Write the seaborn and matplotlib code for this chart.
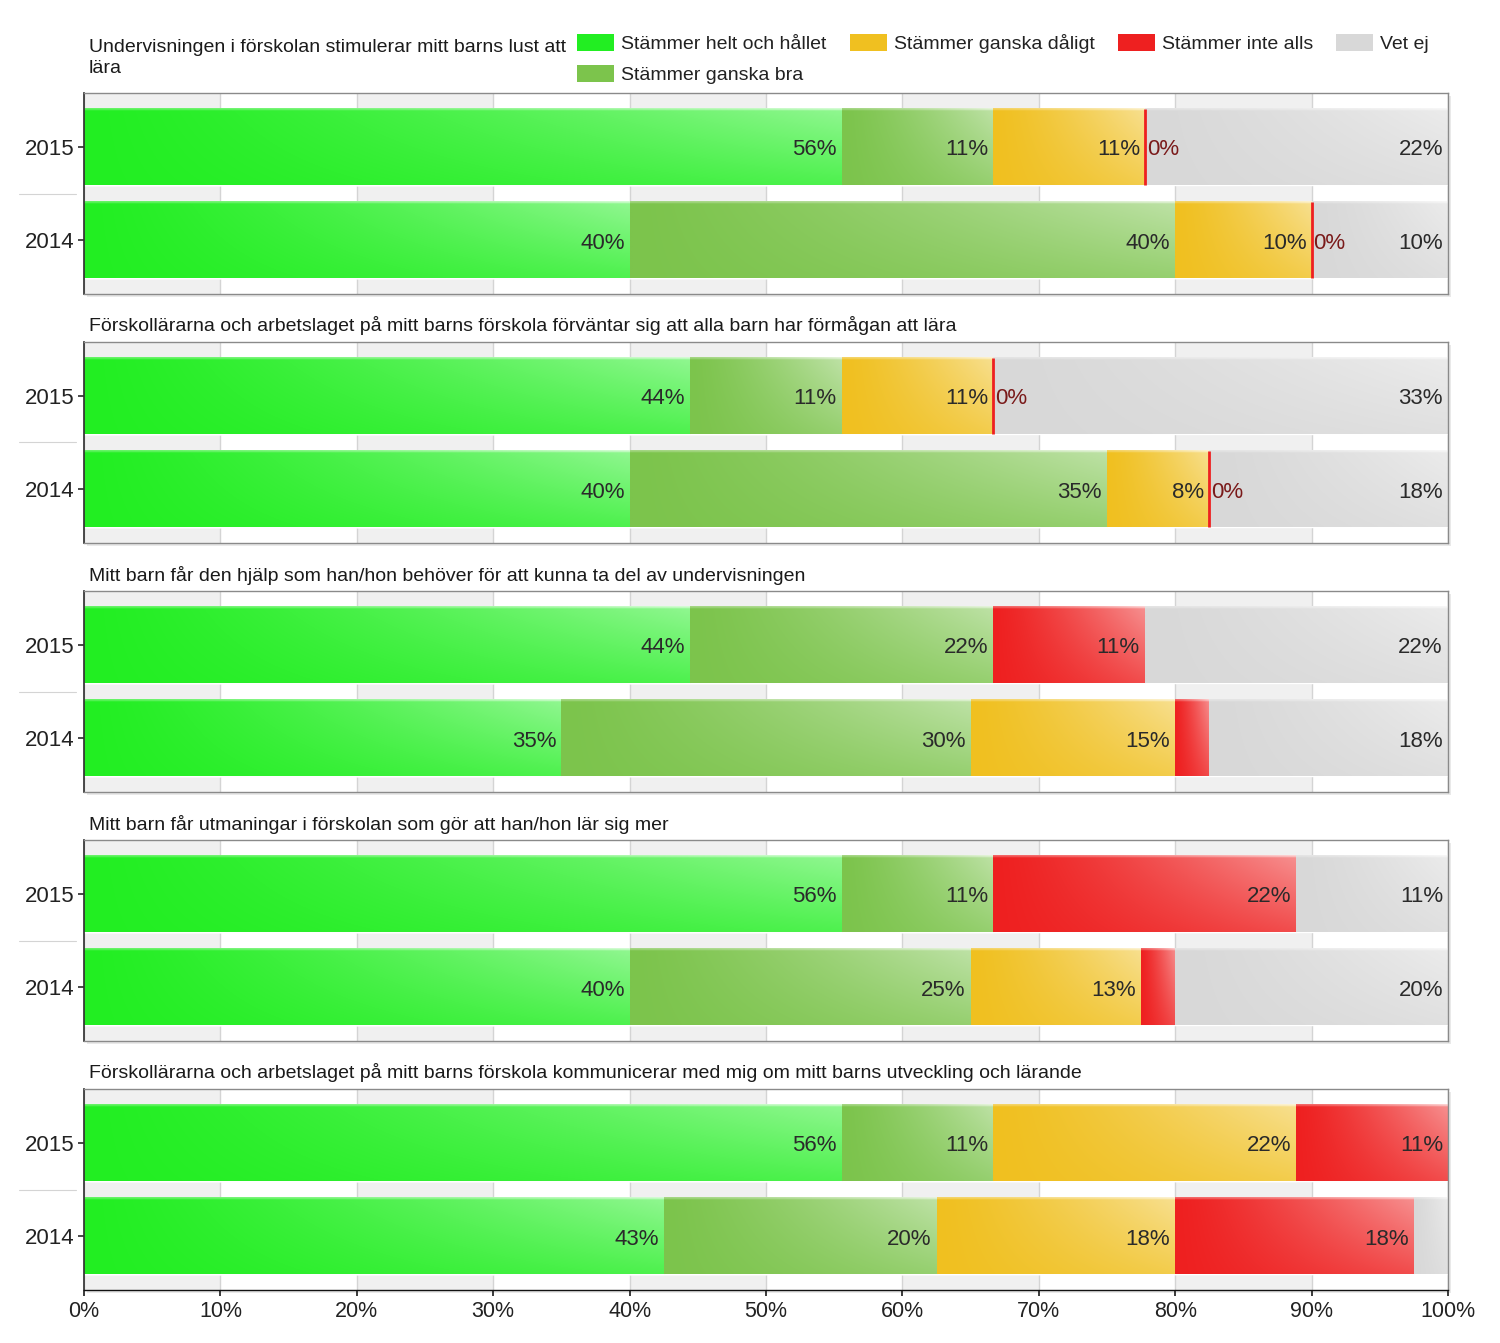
import textwrap
import numpy as np
import pandas as pd
import matplotlib.pyplot as plt
import seaborn as sns
from matplotlib import patheffects
from matplotlib.colors import to_rgb
from matplotlib.patches import Patch

# Data (procent)
years = ['2015', '2014']
categories = ['Stämmer helt och hållet', 'Stämmer ganska bra', 'Stämmer ganska dåligt',
              'Stämmer inte alls', 'Vet ej']
colors = ['#22ee22', '#7cc44c', '#f0c020', '#ee2020', '#d8d8d8']

questions = [
    'Undervisningen i förskolan stimulerar mitt barns lust att lära',
    'Förskollärarna och arbetslaget på mitt barns förskola förväntar sig att alla barn har förmågan att lära',
    'Mitt barn får den hjälp som han/hon behöver för att kunna ta del av undervisningen',
    'Mitt barn får utmaningar i förskolan som gör att han/hon lär sig mer',
    'Förskollärarna och arbetslaget på mitt barns förskola kommunicerar med mig om mitt barns utveckling och lärande',
]

nan = np.nan
q1_values = [[55.56, 11.11, 11.11, 0, 22.22], [40, 40, 10, 0, 10]]
q2_values = [[44.44, 11.11, 11.11, 0, 33.33], [40, 35, 7.5, 0, 17.5]]
q3_values = [[44.44, 22.22, nan, 11.11, 22.22], [35, 30, 15, 2.5, 17.5]]
q4_values = [[55.56, 11.11, nan, 22.22, 11.11], [40, 25, 12.5, 2.5, 20]]
q5_values = [[55.56, 11.11, 22.22, 11.11, nan], [42.5, 20, 17.5, 17.5, 2.5]]
all_values = [q1_values, q2_values, q3_values, q4_values, q5_values]

sns.set_theme(style='white')
plt.rcParams['font.family'] = ['Liberation Sans', 'DejaVu Sans']
plt.rcParams['text.color'] = '#222222'

W, H = 1500, 1343
fig = plt.figure(figsize=(W / 100, H / 100), dpi=100)
palette = dict(zip(categories, colors))
bar_w = 0.82


def shade(color, nx=90, ny=40):
    base = np.array(to_rgb(color))
    cx = np.linspace(0, 1, nx)[None, :]
    ry = np.linspace(0, 1, ny)[:, None]
    mix = 0.5 * cx ** 1.3 * (1 - 0.6 * ry)
    mix[0, :] = np.clip(mix[0, :] + 0.3, 0, 1)
    return base + (1 - base) * mix[..., None]


for k, (question, vals) in enumerate(zip(questions, all_values)):
    top_px = 93 + 249 * k
    ax = fig.add_axes([84 / W, 1 - (top_px + 201) / H, 1364 / W, 201 / H])

    df = pd.DataFrame(vals, index=years, columns=categories)
    cum = df.fillna(0).cumsum(axis=1)
    long = cum.reset_index(names='year').melt(id_vars='year', var_name='kategori', value_name='slut')

    # bakgrundsband
    for s in range(0, 100, 20):
        ax.axvspan(s, s + 10, color='#f0f0f0', zorder=0, lw=0)

    sns.barplot(data=long, x='slut', y='year', hue='kategori', hue_order=categories[::-1],
                palette=palette, dodge=False, width=bar_w, orient='h', legend=False,
                saturation=1, ax=ax, zorder=1)

    for i, year in enumerate(years):
        for j, cat in enumerate(categories):
            v = df.loc[year, cat]
            if np.isnan(v):
                continue
            right = cum.loc[year, cat]
            left = right - v
            if v > 0:
                ax.imshow(shade(colors[j]), extent=(left, right, i + bar_w / 2, i - bar_w / 2),
                          aspect='auto', interpolation='bilinear', zorder=2)
            if v == 0:
                ax.vlines(right, i - bar_w / 2, i + bar_w / 2, color=colors[j], lw=2, zorder=3)
                ax.annotate('0%', xy=(right, i), xytext=(2, -3), textcoords='offset pixels',
                            ha='left', va='center', fontsize=16, color='#7a1a1a', zorder=4)
            elif v >= 5:
                ax.annotate(f'{int(np.floor(v + 0.5))}%', xy=(right, i), xytext=(-5, -3),
                            textcoords='offset pixels', ha='right', va='center',
                            fontsize=16, color='#2a2a2a', zorder=4)

    ax.set_xlim(0, 100)
    ax.set_ylim(1.58, -0.58)
    ax.set_xticks(range(0, 101, 10))
    ax.grid(axis='x', color='#d4d4d4', lw=1)
    ax.grid(axis='y', visible=False)
    ax.set_axisbelow(True)
    ax.set_xlabel('')
    ax.set_ylabel('')
    ax.tick_params(axis='y', left=True, length=4, color='#333333', labelsize=16,
                   labelcolor='#222222', pad=2.5)
    for side in ['top', 'right', 'bottom']:
        ax.spines[side].set_color('#8a8a8a')
        ax.spines[side].set_linewidth(1)
    ax.spines['left'].set_color('#333333')
    if k == len(questions) - 1:
        ax.set_xticklabels([f'{t}%' for t in range(0, 101, 10)])
        ax.tick_params(axis='x', bottom=True, length=4, color='#222222', labelsize=15.5,
                       labelcolor='#222222', pad=4)
        ax.spines['bottom'].set_color('#111111')
    else:
        ax.tick_params(axis='x', bottom=False, labelbottom=False)

    ax.patch.set_path_effects([patheffects.SimplePatchShadow(offset=(2.5, -2.5), alpha=0.12),
                               patheffects.Normal()])

    # liten avskiljare mellan åren
    ax.plot([-0.048, -0.006], [0.5, 0.5], transform=ax.transAxes, color='#aaaaaa',
            lw=0.8, alpha=0.5, clip_on=False)

    title = textwrap.fill(question, 57) if k == 0 else question
    off = 35 if '\n' in title else 16
    ax.annotate(title, xy=(0, 1), xycoords='axes fraction', xytext=(5, off),
                textcoords='offset pixels', ha='left', va='center', fontsize=14.0,
                color='#1a1a1a', linespacing=1.3)

handles = [Patch(facecolor=palette[c], edgecolor='none') for c in categories]
fig.legend(handles, categories, loc='upper left', bbox_to_anchor=(577 / W, 1 - 34 / H),
           ncol=4, frameon=False, fontsize=14, handlelength=1.9, handleheight=0.95,
           handletextpad=0.36, columnspacing=1.2, labelspacing=0.6, borderaxespad=0,
           borderpad=0)

fig.savefig('out.png', dpi=100, facecolor='white')
